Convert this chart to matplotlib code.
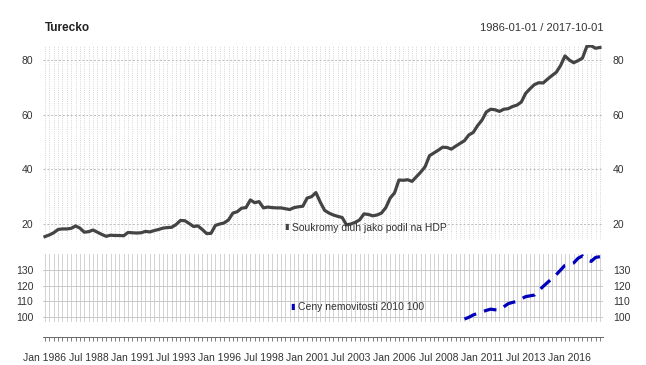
import matplotlib
matplotlib.use("Agg")
import matplotlib.pyplot as plt
from matplotlib.ticker import FixedLocator, NullFormatter

plt.rcParams["font.family"] = ["Liberation Sans", "DejaVu Sans"]

# ---------------- data ----------------
title = "Turecko"
date_range = "1986-01-01 / 2017-10-01"
n_quarters = 128  # 1986Q1 .. 2017Q4

debt_label = "Soukromy dluh jako podil na HDP"
debt = [
    15.4, 16.0, 16.8, 18.0, 18.2, 18.2, 18.4, 19.3, 18.5, 17.0,
    17.2, 17.8, 17.0, 16.2, 15.5, 15.9, 15.8, 15.8, 15.7, 16.9,
    16.8, 16.7, 16.8, 17.3, 17.1, 17.6, 18.0, 18.5, 18.7, 18.8,
    19.8, 21.3, 21.2, 20.2, 19.1, 19.3, 18.0, 16.5, 16.6, 19.5,
    20.0, 20.4, 21.5, 24.0, 24.5, 25.8, 26.0, 28.8, 27.8, 28.2,
    25.9, 26.2, 26.0, 25.9, 25.9, 25.6, 25.3, 26.0, 26.3, 26.5,
    29.5, 30.0, 31.5, 28.0, 25.0, 24.0, 23.3, 22.8, 22.4, 19.7,
    20.0, 20.6, 21.5, 23.7, 23.5, 23.0, 23.3, 24.0, 26.0, 29.5,
    31.4, 36.1, 36.0, 36.2, 35.6, 37.3, 39.0, 41.0, 45.0, 46.0,
    47.0, 48.1, 48.0, 47.4, 48.5, 49.5, 50.5, 52.6, 53.5, 56.0,
    58.0, 61.0, 62.0, 61.8, 61.2, 62.0, 62.2, 63.0, 63.5, 64.6,
    67.8, 69.5, 71.0, 71.7, 71.6, 73.0, 74.3, 75.5, 78.0, 81.5,
    80.0, 79.0, 79.8, 80.7, 85.0, 85.2, 84.3, 84.6,
]

house_label = "Ceny nemovitosti 2010 100"
house_start = 96  # 2010Q1
house = [
    98.7, 99.8, 101.3, 102.3, 103.3, 104.2, 105.0, 104.6, 104.5, 106.5,
    108.5, 109.3, 110.0, 111.5, 113.0, 113.5, 114.0, 116.8, 119.5, 122.0,
    124.5, 127.0, 130.0, 133.0, 133.5, 134.5, 137.5, 139.0, 136.5, 135.5,
    138.0, 138.5,
]

xtick_labels = ["Jan 1986", "Jul 1988", "Jan 1991", "Jul 1993", "Jan 1996",
                "Jul 1998", "Jan 2001", "Jul 2003", "Jan 2006", "Jul 2008",
                "Jan 2011", "Jul 2013", "Jan 2016"]
upper_ticks = [20, 40, 60, 80]
lower_ticks = [100, 110, 120, 130]

# ---------------- figure ----------------
W, H = 646, 365
fig = plt.figure(figsize=(W / 100, H / 100), dpi=100)
fig.patch.set_facecolor("white")

def fx(px):
    return px / W

def fy(py):
    return 1 - py / H

left_px, right_px = 43, 603
ax1 = fig.add_axes([fx(left_px), fy(240), fx(right_px - left_px), (240 - 45) / H])
ax2 = fig.add_axes([fx(left_px), fy(322), fx(right_px - left_px), (322 - 254) / H])

x_all = list(range(n_quarters))
x_house = list(range(house_start, house_start + len(house)))
xlim = (-0.45, n_quarters - 1 + 0.7)

text_col = "#333333"
tfs = 7.5

for ax in (ax1, ax2):
    for s in ax.spines.values():
        s.set_visible(False)
    ax.set_xlim(*xlim)
    ax.tick_params(axis="y", length=0, labelsize=tfs, labelcolor=text_col,
                   left=True, right=True, labelleft=True, labelright=True, pad=7)

# upper panel grid: dotted verticals at each quarter
for xi in x_all:
    ax1.axvline(xi, color="#c8c8c8", lw=0.6, ls=(0, (1, 1.6)), zorder=0)
for yv in upper_ticks:
    ax1.axhline(yv, color="#bbbbbb", lw=0.7, ls=(0, (2, 2)), zorder=0)
ax1.plot(x_all, debt, color="#444444", lw=2.3, solid_joinstyle="round", zorder=3)
ax1.set_ylim(14.15, 85.5)
ax1.set_yticks(upper_ticks)
ax1.set_xticks([])

# lower panel grid: solid verticals
for xi in x_all:
    ax2.axvline(xi, color="#d2d2d2", lw=0.7, zorder=0)
for yv in lower_ticks:
    ax2.axhline(yv, color="#c8c8c8", lw=0.7, zorder=0)
ax2.plot(x_house, house, color="#0000bb", lw=2.3, ls=(0, (4, 2.6)), zorder=3)
ax2.set_ylim(96.8, 140.2)
ax2.set_yticks(lower_ticks)

# x axis below lower panel
ax2.spines["bottom"].set_visible(True)
ax2.spines["bottom"].set_position(("outward", 11))
ax2.spines["bottom"].set_color("#666666")
ax2.spines["bottom"].set_linewidth(0.7)
ax2.xaxis.set_major_locator(FixedLocator(list(range(0, 121, 10))))
ax2.set_xticklabels(xtick_labels)
ax2.xaxis.set_minor_locator(FixedLocator(x_all))
ax2.xaxis.set_minor_formatter(NullFormatter())
ax2.tick_params(axis="x", which="both", length=3, width=0.6, color="#666666",
                labelsize=tfs, labelcolor=text_col, pad=8)

# titles
fig.text(fx(45), fy(28), title, fontsize=8.5, fontweight="bold", color="#222222",
         ha="left", va="center")
fig.text(fx(603), fy(28), date_range, fontsize=8, color="#333333",
         ha="right", va="center")

# legends
fig.text(fx(284), fy(227.5), "\u25AE", fontsize=6, color="#444444", ha="left", va="center")
fig.text(fx(292), fy(227.5), debt_label, fontsize=7.5, color="#333333", ha="left", va="center")
fig.text(fx(290), fy(307), "\u25AE", fontsize=6, color="#0000bb", ha="left", va="center")
fig.text(fx(298), fy(307), house_label, fontsize=7.5, color="#333333", ha="left", va="center")

fig.savefig("out.png", dpi=100, facecolor="white")
